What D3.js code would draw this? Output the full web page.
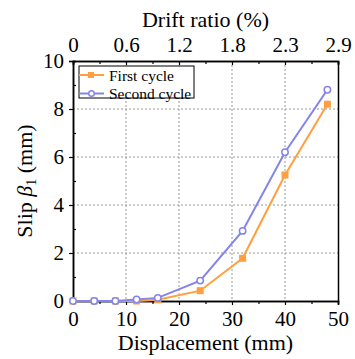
<!DOCTYPE html>
<html>
<head>
<meta charset="utf-8">
<script src="https://cdn.jsdelivr.net/npm/d3@7"></script>
<style>
  body { margin: 0; background: #fff; }
  svg text { font-family: "Liberation Serif", "DejaVu Serif", serif; fill: #000; }
</style>
</head>
<body>
<div id="chart"></div>
<script>
var margin = { top: 61, right: 17, bottom: 58, left: 73 },
    width = 355 - margin.left - margin.right,
    height = 359 - margin.top - margin.bottom;

// displacement steps (mm)
var displacement = [0, 4, 8, 12, 16, 24, 32, 40, 48];
var firstCycle = [0, 0, 0, 0, 0.05, 0.43, 1.78, 5.25, 8.2];
var secondCycle = [0, 0, 0, 0.06, 0.13, 0.85, 2.92, 6.2, 8.8];
var xTicks = [0, 10, 20, 30, 40, 50];
var driftLabels = ["0", "0.6", "1.2", "1.8", "2.3", "2.9"];
var yTicks = [0, 2, 4, 6, 8, 10];

var orange = "#ff9f40", blue = "#8484ea";

var svg = d3.select("#chart").append("svg")
    .attr("width", 355)
    .attr("height", 359);

var g = svg.append("g")
    .attr("transform", "translate(" + margin.left + "," + margin.top + ")");

var x = d3.scaleLinear().domain([0, 50]).range([0, width]);
var y = d3.scaleLinear().domain([0, 10]).range([height, 0]);

// grid
g.selectAll(".vgrid").data(xTicks.slice(1, -1)).enter().append("line")
    .attr("x1", d => x(d)).attr("x2", d => x(d))
    .attr("y1", 0).attr("y2", height)
    .attr("stroke", "#999").attr("stroke-width", 1).attr("stroke-dasharray", "2,2");
g.selectAll(".hgrid").data(yTicks.slice(1, -1)).enter().append("line")
    .attr("y1", d => y(d)).attr("y2", d => y(d))
    .attr("x1", 0).attr("x2", width)
    .attr("stroke", "#999").attr("stroke-width", 1).attr("stroke-dasharray", "2,2");

// axes
var minorX = d3.range(5, 50, 10);
var minorY = d3.range(1, 10, 2);

var axBottom = g.append("g").attr("transform", "translate(0," + height + ")")
    .call(d3.axisBottom(x).tickValues(xTicks).tickSize(4).tickPadding(6).tickFormat(d3.format("d")));
axBottom.append("g").call(d3.axisBottom(x).tickValues(minorX).tickSize(3).tickFormat(""));

var axTop = g.append("g")
    .call(d3.axisTop(x).tickValues(xTicks).tickSize(-4).tickPadding(9).tickFormat((d, i) => driftLabels[i]));
axTop.append("g").call(d3.axisTop(x).tickValues(minorX).tickSize(-3).tickFormat(""));

var axLeft = g.append("g")
    .call(d3.axisLeft(y).tickValues(yTicks).tickSize(4).tickPadding(5).tickFormat(d3.format("d")));
axLeft.append("g").call(d3.axisLeft(y).tickValues(minorY).tickSize(-3).tickFormat(""));

var axRight = g.append("g").attr("transform", "translate(" + width + ",0)")
    .call(d3.axisRight(y).tickValues(yTicks).tickSize(0).tickFormat(""));

[axBottom, axTop, axLeft, axRight].forEach(function(a) {
    a.attr("font-size", null).attr("font-family", null);
    a.selectAll("path").attr("stroke", "#000").attr("stroke-width", 1.5);
    a.selectAll("line").attr("stroke", "#000").attr("stroke-width", 1.2);
    a.selectAll("text").style("font-size", "21px");
});

// lines
var line = d3.line()
    .x((d, i) => x(displacement[i]))
    .y(d => y(d));

g.append("path").datum(firstCycle)
    .attr("fill", "none").attr("stroke", orange).attr("stroke-width", 2)
    .attr("d", line);
g.append("path").datum(secondCycle)
    .attr("fill", "none").attr("stroke", blue).attr("stroke-width", 2)
    .attr("d", line);

g.selectAll(".sq").data(firstCycle).enter().append("rect")
    .attr("x", (d, i) => x(displacement[i]) - 3.5)
    .attr("y", d => y(d) - 3.5)
    .attr("width", 7).attr("height", 7)
    .attr("fill", orange);
g.selectAll(".ci").data(secondCycle).enter().append("circle")
    .attr("cx", (d, i) => x(displacement[i]))
    .attr("cy", d => y(d))
    .attr("r", 3.2)
    .attr("fill", "#fff").attr("stroke", blue).attr("stroke-width", 1.5);

// legend
var legend = g.append("g").attr("transform", "translate(6,5)");
legend.append("rect")
    .attr("width", 115).attr("height", 32)
    .attr("fill", "#fff").attr("stroke", "#000").attr("stroke-width", 1);
var entries = [
    { label: "First cycle", color: orange, shape: "square" },
    { label: "Second cycle", color: blue, shape: "circle" }
];
entries.forEach(function(e, i) {
    var yy = 9 + i * 18.5;
    legend.append("line")
        .attr("x1", 0).attr("x2", 25).attr("y1", yy).attr("y2", yy)
        .attr("stroke", e.color).attr("stroke-width", 2);
    if (e.shape == "square") {
        legend.append("rect").attr("x", 9).attr("y", yy - 3)
            .attr("width", 6).attr("height", 6).attr("fill", e.color);
    } else {
        legend.append("circle").attr("cx", 12.5).attr("cy", yy).attr("r", 2.8)
            .attr("fill", "#fff").attr("stroke", e.color).attr("stroke-width", 1.5);
    }
    legend.append("text")
        .attr("x", 30).attr("y", yy + 5.5)
        .style("font-size", "15.5px")
        .text(e.label);
});

// axis titles
svg.append("text")
    .attr("x", margin.left + width / 2).attr("y", 350)
    .attr("text-anchor", "middle")
    .style("font-size", "22px")
    .text("Displacement (mm)");

svg.append("text")
    .attr("x", margin.left + width / 2).attr("y", 27)
    .attr("text-anchor", "middle")
    .style("font-size", "22px")
    .text("Drift ratio (%)");

var ylab = svg.append("text")
    .attr("transform", "translate(32," + (margin.top + height / 2) + ") rotate(-90)")
    .attr("text-anchor", "middle")
    .style("font-size", "22px");
ylab.append("tspan").text("Slip ");
ylab.append("tspan").style("font-style", "italic").text("β");
ylab.append("tspan").attr("dy", 4).style("font-size", "14px").text("1");
ylab.append("tspan").attr("dy", -4).text(" (mm)");
</script>
</body>
</html>
